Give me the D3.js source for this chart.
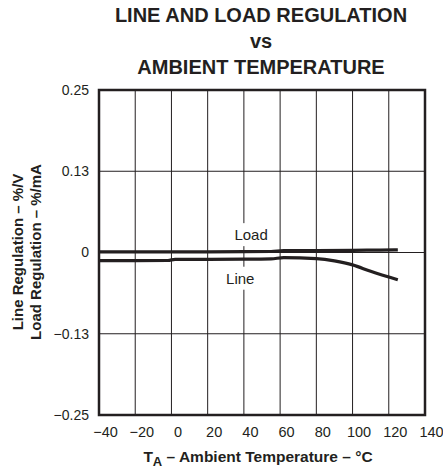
<!DOCTYPE html>
<html>
<head>
<meta charset="utf-8">
<script src="https://cdn.jsdelivr.net/npm/d3@7"></script>
<style>
  html, body { margin: 0; padding: 0; background: #fff; }
  svg { display: block; font-family: "Liberation Sans", Arial, sans-serif; }
</style>
</head>
<body>
<svg id="chart" width="443" height="472"></svg>
<script>
// ---- data ----
const titleLines = ["LINE AND LOAD REGULATION", "vs", "AMBIENT TEMPERATURE"];
const xTicks = [-40, -20, 0, 20, 40, 60, 80, 100, 120, 140];
const yTicks = [-0.25, -0.125, 0, 0.125, 0.25];
const yTickLabels = ["\u22120.25", "\u22120.13", "0", "0.13", "0.25"];
const loadTemp = [-40, -20, 0, 20, 40, 55, 62, 80, 100, 115, 125];
const loadValue = [0.001, 0.001, 0.001, 0.001, 0.0012, 0.0015, 0.003, 0.003, 0.0032, 0.0038, 0.004];
const lineTemp = [-40, -20, -2, 2, 20, 40, 55, 62, 80, 90, 100, 110, 125];
const lineValue = [-0.0125, -0.0125, -0.0123, -0.0105, -0.0105, -0.0103, -0.0098, -0.0078, -0.0095, -0.013, -0.019, -0.029, -0.042];
const seriesLabels = ["Load", "Line"];

// ---- layout ----
const svg = d3.select("#chart");
const L = 99, R = 425, T = 90, B = 415;
const x = d3.scaleLinear().domain([-40, 140]).range([L, R]);
const y = d3.scaleLinear().domain([-0.25, 0.25]).range([B, T]);

// title
svg.append("g").selectAll("text").data(titleLines).join("text")
  .attr("x", 261).attr("y", (d, i) => 22 + i * 26)
  .attr("text-anchor", "middle")
  .attr("font-weight", "bold").attr("font-size", 20)
  .attr("fill", "#231f20")
  .text(d => d);

// grid
const grid = svg.append("g").attr("stroke", "#231f20").attr("stroke-width", 1);
grid.selectAll("line.v").data(xTicks).join("line").attr("class", "v")
  .attr("x1", d => x(d)).attr("x2", d => x(d)).attr("y1", T).attr("y2", B);
grid.selectAll("line.h").data(yTicks).join("line").attr("class", "h")
  .attr("x1", L).attr("x2", R).attr("y1", d => y(d)).attr("y2", d => y(d));

// axes (labels only)
const xAxis = d3.axisBottom(x).tickValues(xTicks).tickSize(0).tickPadding(12)
  .tickFormat(d => d < 0 ? "\u2212" + Math.abs(d) : String(d));
const gx = svg.append("g").attr("transform", `translate(0,${B})`).call(xAxis);
gx.select(".domain").remove();
gx.selectAll("text").attr("font-size", 14.5).attr("font-family", "Liberation Sans, Arial, sans-serif")
  .attr("fill", "#231f20").attr("dx", 6);

const yAxis = d3.axisLeft(y).tickValues(yTicks).tickSize(0).tickPadding(10)
  .tickFormat((d, i) => yTickLabels[i]);
const gy = svg.append("g").attr("transform", `translate(${L},0)`).call(yAxis);
gy.select(".domain").remove();
gy.selectAll("text").attr("font-size", 14).attr("font-family", "Liberation Sans, Arial, sans-serif")
  .attr("fill", "#231f20");

// series label boxes (mask gridline) and text
const labelPos = [{t: 44, v: 0.019}, {t: 38, v: -0.048}];
const lg = svg.append("g");
seriesLabels.forEach((s, i) => {
  const tx = lg.append("text")
    .attr("x", x(labelPos[i].t)).attr("y", y(labelPos[i].v))
    .attr("text-anchor", "middle").attr("font-size", 15).attr("fill", "#231f20")
    .text(s);
  const bb = tx.node().getBBox();
  lg.insert("rect", "text").attr("x", bb.x - 3).attr("y", bb.y - 3)
    .attr("width", bb.width + 6).attr("height", bb.height + 6).attr("fill", "#fff");
});

// series lines
const lineGen = d3.line().x(d => x(d[0])).y(d => y(d[1])).curve(d3.curveMonotoneX);
svg.append("path").datum(loadTemp.map((t, i) => [t, loadValue[i]]))
  .attr("d", lineGen).attr("fill", "none").attr("stroke", "#231f20").attr("stroke-width", 3.2);
svg.append("path").datum(lineTemp.map((t, i) => [t, lineValue[i]]))
  .attr("d", lineGen).attr("fill", "none").attr("stroke", "#231f20").attr("stroke-width", 3.2);

// frame
svg.append("rect").attr("x", L).attr("y", T).attr("width", R - L).attr("height", B - T)
  .attr("fill", "none").attr("stroke", "#231f20").attr("stroke-width", 2.5);

// axis titles
const xt = svg.append("text").attr("x", 258).attr("y", 462).attr("text-anchor", "middle")
  .attr("font-weight", "bold").attr("font-size", 15.5).attr("fill", "#231f20");
xt.append("tspan").text("T");
xt.append("tspan").attr("font-size", 13).attr("dy", 4).text("A");
xt.append("tspan").attr("dy", -4).text(" \u2013 Ambient Temperature \u2013 \u00B0C");

const yTitles = ["Line Regulation \u2013 %/V", "Load Regulation \u2013 %/mA"];
svg.append("g").selectAll("text").data(yTitles).join("text")
  .attr("transform", (d, i) => `translate(${23 + i * 18},${252}) rotate(-90)`)
  .attr("text-anchor", "middle").attr("font-weight", "bold").attr("font-size", 15)
  .attr("fill", "#231f20").text(d => d);
</script>
</body>
</html>
